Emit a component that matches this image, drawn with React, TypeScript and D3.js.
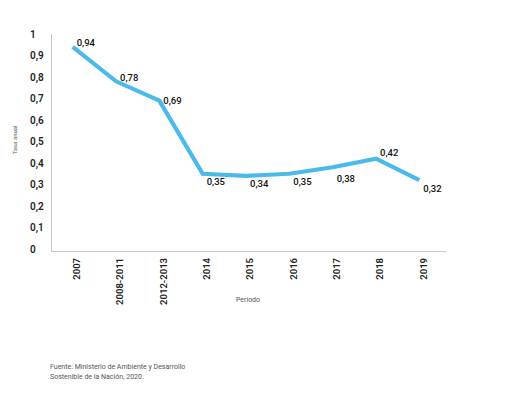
import React, { useEffect, useRef } from 'react';
import * as d3 from 'd3';

const periods = ['2007', '2008-2011', '2012-2013', '2014', '2015', '2016', '2017', '2018', '2019'];
const rates = [0.94, 0.78, 0.69, 0.35, 0.34, 0.35, 0.38, 0.42, 0.32];
const yTicks = [0, 0.1, 0.2, 0.3, 0.4, 0.5, 0.6, 0.7, 0.8, 0.9, 1];
const sourceLines = ['Fuente: Ministerio de Ambiente y Desarrollo', 'Sostenible de la Nación, 2020.'];

const fmt = (v: number) => String(v).replace('.', ',');

export default function App() {
  const svgRef = useRef<SVGSVGElement>(null);

  useEffect(() => {
    if (!svgRef.current) return;
    const width = 519;
    const height = 396;
    const svg = d3.select(svgRef.current);
    svg.selectAll('*').remove();
    svg.attr('width', width).attr('height', height).attr('viewBox', `0 0 ${width} ${height}`);

    const font = 'Roboto, sans-serif';
    const left = 51;
    const right = 441;
    const top = 34;
    const bottom = 249;

    const x = d3.scaleBand<string>().domain(periods).range([left, right]);
    const cx = (d: string) => (x(d) ?? 0) + x.bandwidth() / 2;
    const y = d3.scaleLinear().domain([0, 1]).range([bottom, top]);

    // axis lines
    svg.append('line')
      .attr('x1', left + 0.5).attr('x2', left + 0.5)
      .attr('y1', top).attr('y2', bottom + 2)
      .attr('stroke', '#c8c8c8').attr('stroke-width', 1);
    svg.append('line')
      .attr('x1', left).attr('x2', 446)
      .attr('y1', bottom + 2.5).attr('y2', bottom + 2.5)
      .attr('stroke', '#c8c8c8').attr('stroke-width', 1);

    // y tick labels
    svg.append('g').selectAll('text')
      .data(yTicks)
      .enter()
      .append('text')
      .attr('x', 30)
      .attr('y', (d) => y(d))
      .attr('dy', '0.35em')
      .attr('font-family', font)
      .attr('font-size', 10)
      .attr('font-weight', 600)
      .attr('fill', '#222')
      .text((d) => fmt(d));

    // x tick labels
    svg.append('g').selectAll('text')
      .data(periods)
      .enter()
      .append('text')
      .attr('transform', (d) => `translate(${cx(d) + 4},258) rotate(-90)`)
      .attr('text-anchor', 'end')
      .attr('dy', '0.35em')
      .attr('font-family', font)
      .attr('font-size', 9.5)
      .attr('font-weight', 600)
      .attr('fill', '#222')
      .text((d) => d);

    // axis titles
    svg.append('text')
      .attr('x', 248).attr('y', 302)
      .attr('text-anchor', 'middle')
      .attr('font-family', font)
      .attr('font-size', 7)
      .attr('fill', '#555')
      .text('Período');
    svg.append('text')
      .attr('transform', 'translate(17,140) rotate(-90)')
      .attr('text-anchor', 'middle')
      .attr('font-family', font)
      .attr('font-size', 6)
      .attr('fill', '#555')
      .text('Tasa anual');

    // line
    const line = d3.line<number>()
      .x((_, i) => cx(periods[i]))
      .y((d) => y(d));
    svg.append('path')
      .datum(rates)
      .attr('d', line)
      .attr('fill', 'none')
      .attr('stroke', '#4bb9ea')
      .attr('stroke-width', 4.2)
      .attr('stroke-linejoin', 'miter');

    // value labels
    const labelDy = [-4, -4, 0, 8, 8, 8, 11, -6, 8];
    svg.append('g').selectAll('text')
      .data(rates)
      .enter()
      .append('text')
      .attr('x', (_, i) => cx(periods[i]) + 4)
      .attr('y', (d, i) => y(d) + labelDy[i])
      .attr('dy', '0.35em')
      .attr('font-family', font)
      .attr('font-size', 9.5)
      .attr('font-weight', 500)
      .attr('fill', '#111')
      .text((d) => fmt(d));

    // source
    svg.append('g').selectAll('text')
      .data(sourceLines)
      .enter()
      .append('text')
      .attr('x', 50)
      .attr('y', (_, i) => 369 + i * 10)
      .attr('font-family', font)
      .attr('font-size', 7)
      .attr('fill', '#555')
      .text((d) => d);
  }, []);

  return <svg ref={svgRef} style={{ position: 'absolute', left: 0, top: 0 }} />;
}
